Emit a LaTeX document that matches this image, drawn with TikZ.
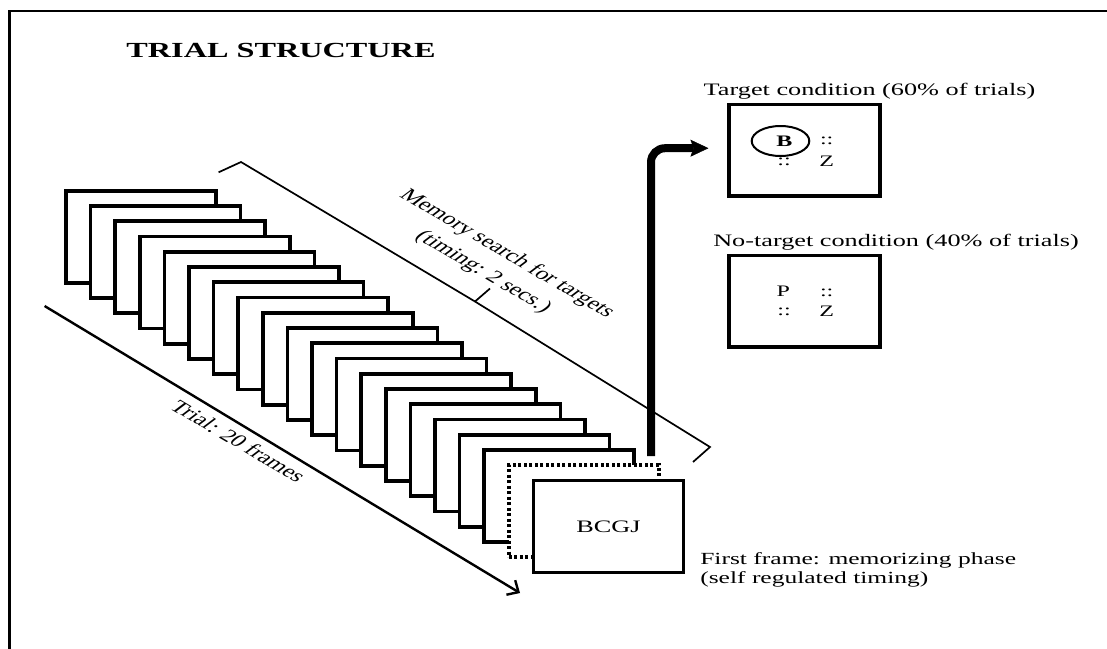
\documentclass[tikz,border=0pt]{standalone}
\usepackage{fontspec}
\setmainfont{Liberation Serif}
\usetikzlibrary{arrows.meta,shapes.geometric,calc}
\begin{document}
\begin{tikzpicture}[x=1pt,y=-1pt,
  fr/.style={draw, line width=3.6pt, fill=white, minimum width=150pt, minimum height=92pt, inner sep=0pt, outer sep=0pt},
  lbl/.style={font=\fontsize{17.5}{24}\selectfont, xscale=1.5, inner sep=0pt},
  condbox/.style={draw, line width=3.6pt, minimum width=150.7pt, minimum height=91.7pt, inner sep=0pt},
  letr/.style={font=\fontsize{16}{18}\selectfont, xscale=1.5, inner sep=0pt},
  dotm/.style={font=\fontsize{16}{18}\selectfont, xscale=1.5, inner sep=0pt},
  thin/.style={line width=1.7pt}
]
\useasboundingbox (0,0) rectangle (1107,648);
\fill[white] (0,0) rectangle (1107,648);
% outer border (only top and left visible)
\draw[line width=2pt] (1110,11) -- (9.5,11);
\draw[line width=3pt] (9.5,10) -- (9.5,650);

% title
\node[lbl, font=\bfseries\fontsize{21.5}{26}\selectfont] (title) at (281,50) {TRIAL STRUCTURE};

% stack of frames
\foreach \i in {0,...,17} {
  \node[fr] (f\i) at ({141+24.6*\i},{236.7+15.25*\i}) {};
}
\node[fr, dash pattern=on 3pt off 2.5pt] (f18) at ({141+24.6*18},{236.7+15.25*18}) {};
\node[fr] (f19) at (608.4,526.45) {};
\node[lbl] (bcgj) at (f19.center) {BCGJ};

% trial arrow
\coordinate (tstart) at (44.6,306);
\coordinate (tend) at (520,593);
\draw[line width=2.4pt, -{Straight Barb[length=9pt,width=17pt]}] (tstart) -- (tend);
\node[lbl, rotate=-41.35] (trial) at (238.5,441) {Trial: 20 frames};

% memory search bracket
\coordinate (b1) at (218.6,172.3);
\coordinate (b2) at (241,162);
\coordinate (bm) at (475,301.5);
\coordinate (bt) at (490,288.5);
\coordinate (b3) at (710,447);
\coordinate (b4) at (693,462);
\draw[thin, line join=miter] (b1) -- (b2) -- (bm) -- (b3) -- (b4);
\draw[thin] (bm) -- (bt);
\node[lbl, rotate=-41.35, align=center] (mem) at (495,263) {Memory search for targets\\(timing: 2 secs.)};

% condition boxes
\node[lbl] (tlab) at (869.5,91.7) {Target condition (60\% of trials)};
\node[condbox] (tbox) at (804.6,150.2) {};
\node[letr, font=\bfseries\fontsize{16}{18}\selectfont] (B) at (784.3,141.7) {B};
\node[draw, ellipse, line width=2pt, minimum width=57.6pt, minimum height=30pt, inner sep=0pt] (circB) at (780.5,141) {};
\node[dotm] (td1) at (826.7,141) {::};
\node[dotm] (td2) at (784,161.7) {::};
\node[letr] (tz) at (826.7,161.7) {Z};

\node[lbl] (nlab) at (896,242.3) {No-target condition (40\% of trials)};
\node[condbox] (nbox) at (804.6,301.4) {};
\node[letr] (np) at (783.3,291.7) {P};
\node[dotm] (nd1) at (826.7,293) {::};
\node[dotm] (nd2) at (784,311.7) {::};
\node[letr] (nz) at (826.7,311.7) {Z};

% big arrow to target condition
\coordinate (astart) at (651,456);
\draw[line width=8pt, rounded corners=14pt, -{Stealth[length=18pt,width=17pt,inset=3pt,line width=0.5pt]}] (astart) |- ([xshift=-19pt,yshift=2pt]tbox.west);

% first frame label
\node[font=\fontsize{17}{19}\selectfont, xscale=1.5, inner sep=0pt, align=left, anchor=west] (ff) at (700,570) {First frame: memorizing phase\\(self regulated timing)};
\end{tikzpicture}
\end{document}
